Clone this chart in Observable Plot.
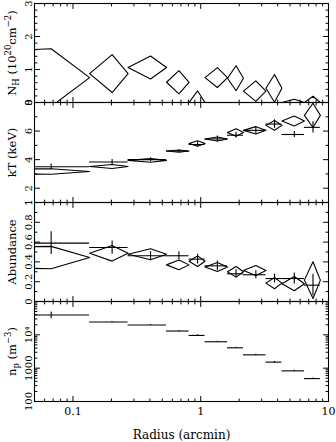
<!DOCTYPE html>
<html><head><meta charset="utf-8">
<script src="https://cdn.jsdelivr.net/npm/d3@7"></script>
<script src="https://cdn.jsdelivr.net/npm/@observablehq/plot@0.6"></script>
<style>
body{margin:0;background:#fff;}
#chart{position:relative;width:336px;height:442px;overflow:hidden;background:#fff;}
#chart svg{position:absolute;left:0;overflow:visible;}
</style></head><body><div id="chart"></div>
<script>
// ---- radial bins (arcmin) ----
const binLo  = [0, 0.135, 0.27, 0.54, 0.81, 1.08, 1.62, 2.16, 3.24, 4.32, 6.48];
const binHi  = [0.135, 0.27, 0.54, 0.81, 1.08, 1.62, 2.16, 3.24, 4.32, 6.48, 8.64];
const binMid = [0.0675, 0.2025, 0.405, 0.675, 0.945, 1.35, 1.89, 2.70, 3.78, 5.40, 7.56];

// ---- NH (10^20 cm^-2), diamonds ----
const nhVal = [0.755, 0.876, 1.06, 0.613, 0.0, 0.755, 0.735, 0.345, 0.43, 0.0, 0.0];
const nhErr = [0.875, 0.574, 0.348, 0.353, 0.35, 0.30, 0.38, 0.31, 0.42, 0.10, 0.19];

// ---- kT (keV) ----
const ktCross    = [3.50, 3.83, 4.00, 4.60, 5.06, 5.45, 5.71, 6.05, 6.49, 5.76, 6.26];
const ktCrossErr = [0.19, 0.18, 0.14, 0.08, 0.18, 0.21, 0.20, 0.26, 0.30, 0.21, 0.40];
const ktDiam     = [3.17, 3.52, 3.95, 4.60, 5.13, 5.45, 5.90, 6.05, 6.40, 6.70, 7.10];
const ktDiamErr  = [0.19, 0.14, 0.13, 0.08, 0.19, 0.14, 0.27, 0.26, 0.34, 0.35, 0.85];

// ---- Abundance ----
const abCross    = [0.59, 0.545, 0.462, 0.462, 0.428, 0.36, 0.28, 0.27, 0.232, 0.232, 0.165];
const abCrossErr = [0.115, 0.067, 0.04, 0.04, 0.05, 0.05, 0.04, 0.04, 0.045, 0.055, 0.11];
const abDiam     = [0.444, 0.487, 0.477, 0.37, 0.407, 0.349, 0.30, 0.313, 0.186, 0.18, 0.216];
const abDiamErr  = [0.113, 0.079, 0.056, 0.05, 0.054, 0.045, 0.054, 0.05, 0.057, 0.072, 0.185];

// ---- density n_p (m^-3) ----
const npVal = [39500, 24300, 19700, 13000, 9600, 6200, 4080, 2510, 1517, 830, 486];
const npErr = [9000, 1000, 700, 500, 400, 250, 170, 100, 70, 40, 25];

// ---- axes / ticks ----
const xDomain = [0.05, 10];
const xMajor = [0.1, 1, 10];
const xMinor = [0.05,0.06,0.07,0.08,0.09,0.2,0.3,0.4,0.5,0.6,0.7,0.8,0.9,2,3,4,5,6,7,8,9];
const xLabels = [{v:0.1,t:"0.1"},{v:1,t:"1"},{v:10,t:"10"}];

const nhMajor = [0,1,2,3];
const nhMinor = [0.2,0.4,0.6,0.8,1.2,1.4,1.6,1.8,2.2,2.4,2.6,2.8];
const nhLabels = [{v:0,t:"0"},{v:1,t:"1"},{v:2,t:"2"},{v:3,t:"3"}];

const ktMajor = [2,4,6,8];
const ktMinor = [1,3,5,7];
const ktLabels = [{v:1,t:"1"},{v:2,t:"2"},{v:4,t:"4"},{v:6,t:"6"},{v:8,t:"8"}];

const abMajor = [0,0.2,0.4,0.6,0.8,1];
const abMinor = [0.1,0.3,0.5,0.7,0.9];
const abLabels = [{v:0,t:"0"},{v:0.2,t:"0.2"},{v:0.4,t:"0.4"},{v:0.6,t:"0.6"},{v:0.8,t:"0.8"},{v:1,t:"1"}];

const npMajor = [100,1000,10000,100000];
const npMinor = [200,300,400,500,600,700,800,900,2000,3000,4000,5000,6000,7000,8000,9000,20000,30000,40000,50000,60000,70000,80000,90000];
const npLabels = [{v:100,t:"100"},{v:1000,t:"1000"},{v:10000,t:"10⁴"}];

const FONT = "'DejaVu Serif', 'Liberation Serif', serif";
const W = 336, ML = 34, MR = 8;
const idx = binMid.map((_, i) => i);
const loPos = i => binLo[i] > 0 ? binLo[i] : 1e-6;   // bin starting at r=0 on a log axis

const tk = {draw(c, l) { c.moveTo(0, 0); c.lineTo(0, -l); }};
function tickMarks(yMaj, yMin) {
  const v = (data, ch, anchor, rot, len) => Plot.vector(data, {[ch]: d => d, frameAnchor: anchor, rotate: rot, length: len, anchor: "start", shape: tk, stroke: "black", strokeWidth: 1});
  return [
    v(xMajor, "x", "bottom", 0, 5), v(xMinor, "x", "bottom", 0, 2.5),
    v(xMajor, "x", "top", 180, 5), v(xMinor, "x", "top", 180, 2.5),
    v(yMaj, "y", "left", 90, 5), v(yMin, "y", "left", 90, 2.5),
    v(yMaj, "y", "right", -90, 5), v(yMin, "y", "right", -90, 2.5)
  ];
}
function diamondPts(val, err) {
  const pts = [];
  idx.forEach(i => {
    pts.push({i, x: loPos(i), y: val[i]}, {i, x: binMid[i], y: val[i] + err[i]},
             {i, x: binHi[i], y: val[i]}, {i, x: binMid[i], y: val[i] - err[i]},
             {i, x: loPos(i), y: val[i]});
  });
  return pts;
}
function diamonds(val, err) {
  return Plot.line(diamondPts(val, err), {x: "x", y: "y", z: "i", stroke: "black", strokeWidth: 1.1, clip: true});
}
function crosses(val, err) {
  return [
    Plot.ruleY(idx, {y: i => val[i], x1: i => loPos(i), x2: i => binHi[i], stroke: "black", strokeWidth: 1.1, clip: true}),
    Plot.ruleX(idx, {x: i => binMid[i], y1: i => val[i] - err[i], y2: i => val[i] + err[i], stroke: "black", strokeWidth: 1.1, clip: true})
  ];
}
function yLabels(labels) {
  return Plot.text(labels, {y: d => d.v, text: d => d.t, frameAnchor: "left", dx: -3, rotate: -90, textAnchor: "middle", lineAnchor: "bottom", fontSize: 10, fill: "black"});
}
function yTitle(key) {
  return Plot.text([key], {text: d => d, frameAnchor: "left", dx: -19, rotate: -90, textAnchor: "middle", lineAnchor: "bottom", fontSize: 11.5, fill: "black"});
}

const chart = document.getElementById("chart");
function panel({top, frameH, marginTop = 0, marginBottom = 0, y, marks}) {
  const p = Plot.plot({
    width: W, height: marginTop + frameH + marginBottom,
    marginTop, marginBottom, marginLeft: ML, marginRight: MR,
    x: {type: "log", domain: xDomain, axis: null},
    y: {...y, axis: null},
    style: {background: "transparent", overflow: "visible", fontFamily: FONT, color: "black"},
    marks: [...marks, Plot.frame({stroke: "black", strokeWidth: 1.1})]
  });
  p.style.position = "absolute";
  p.style.top = (top - marginTop) + "px";
  p.style.left = "0px";
  chart.appendChild(p);
  return p;
}

panel({top: 3, frameH: 99, marginTop: 3, y: {type: "linear", domain: [0, 3]},
  marks: [diamonds(nhVal, nhErr), ...tickMarks(nhMajor, nhMinor), yLabels(nhLabels), yTitle("@NH")]});

panel({top: 102, frameH: 100, y: {type: "linear", domain: [1, 8]},
  marks: [diamonds(ktDiam, ktDiamErr), ...crosses(ktCross, ktCrossErr), ...tickMarks(ktMajor, ktMinor), yLabels(ktLabels), yTitle("kT (keV)")]});

panel({top: 202, frameH: 99, y: {type: "linear", domain: [0, 1]},
  marks: [diamonds(abDiam, abDiamErr), ...crosses(abCross, abCrossErr), ...tickMarks(abMajor, abMinor), yLabels(abLabels), yTitle("Abundance")]});

panel({top: 301, frameH: 100, marginBottom: 41, y: {type: "log", domain: [100, 100000]},
  marks: [...crosses(npVal, npErr), ...tickMarks(npMajor, npMinor), yLabels(npLabels), yTitle("@NP"),
    Plot.text(xLabels, {x: d => d.v, text: d => d.t, frameAnchor: "bottom", dy: 10, lineAnchor: "middle", fontSize: 11, fill: "black"}),
    Plot.text(["Radius (arcmin)"], {text: d => d, frameAnchor: "bottom", dy: 34, lineAnchor: "middle", fontSize: 12, fill: "black"})
  ]});

// rich text (sub/superscripts) for axis titles
const rich = {
  "@NH": 'N<tspan dy="3" font-size="8.5">H</tspan><tspan dy="-3"> (10</tspan><tspan dy="-5" font-size="8.5">20</tspan><tspan dy="5">cm</tspan><tspan dy="-5" font-size="8.5">−2</tspan><tspan dy="5">)</tspan>',
  "@NP": 'n<tspan dy="3" font-size="8.5">p</tspan><tspan dy="-3"> (m</tspan><tspan dy="-5" font-size="8.5">−3</tspan><tspan dy="5">)</tspan>'
};
chart.querySelectorAll("text").forEach(t => {
  const k = t.textContent.trim();
  if (rich[k]) t.innerHTML = rich[k];
});
</script></body></html>
